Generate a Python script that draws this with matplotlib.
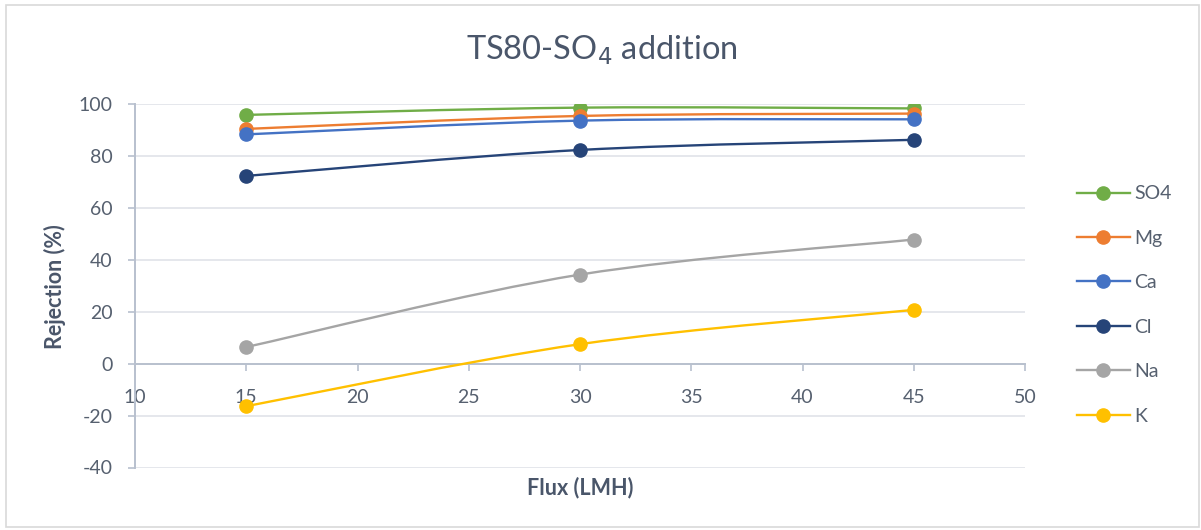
import matplotlib
matplotlib.use("Agg")
import matplotlib.pyplot as plt
from matplotlib.path import Path
from matplotlib.patches import PathPatch, Rectangle
from matplotlib.lines import Line2D
import numpy as np

plt.rcParams["font.family"] = ["Lato", "DejaVu Sans"]
plt.rcParams["axes.unicode_minus"] = False

flux = [15, 30, 45]
so4 = [95.8, 98.6, 98.3]
mg = [90.4, 95.4, 96.3]
ca = [88.3, 93.6, 94.1]
cl = [72.3, 82.3, 86.2]
na = [6.4, 34.3, 47.8]
k = [-16.4, 7.5, 20.7]

SERIES = [
    ("SO4", so4, "#70AD47"),
    ("Mg", mg, "#ED7D31"),
    ("Ca", ca, "#4472C4"),
    ("Cl", cl, "#264478"),
    ("Na", na, "#A5A5A5"),
    ("K", k, "#FFC000"),
]

TEXT = "#56606F"
TITLE = "#4A566A"
AXIS = "#B8C0CE"
GRID = "#E0E3E9"


def smooth_path(x, y):
    # cubic bezier through the points, like a spreadsheet "smoothed line"
    pts = np.column_stack([x, y]).astype(float)
    pad = np.vstack([pts[0], pts, pts[-1]])
    verts = [pts[0]]
    codes = [Path.MOVETO]
    for i in range(len(pts) - 1):
        p0, p1, p2, p3 = pad[i], pad[i + 1], pad[i + 2], pad[i + 3]
        c1 = p1 + (p2 - p0) / 6.0
        c2 = p2 - (p3 - p1) / 6.0
        verts += [c1, c2, p2]
        codes += [Path.CURVE4] * 3
    return Path(verts, codes)


fig = plt.figure(figsize=(12.01, 5.30), dpi=100)
ax = fig.add_axes([135 / 1201, 1 - 467.5 / 530, 890 / 1201, 363.5 / 530])

for name, vals, color in SERIES:
    ax.add_patch(PathPatch(smooth_path(flux, vals), fill=False, edgecolor=color,
                           linewidth=1.7, capstyle="round", zorder=3))
    ax.plot(flux, vals, linestyle="none", marker="o", markersize=9.5,
            color=color, zorder=4)

ax.set_xlim(10, 50)
ax.set_ylim(-40, 100)
ax.set_xticks(np.arange(10, 51, 5))
ax.set_yticks(np.arange(-40, 101, 20))

ax.grid(axis="y", color=GRID, linewidth=1.2, zorder=0)
ax.set_axisbelow(True)

for side in ["top", "right"]:
    ax.spines[side].set_visible(False)
ax.spines["bottom"].set_position(("data", 0))
ax.spines["bottom"].set_color(AXIS)
ax.spines["left"].set_color(AXIS)
ax.spines["bottom"].set_linewidth(1.4)
ax.spines["left"].set_linewidth(1.4)

ax.tick_params(axis="x", direction="out", length=5, width=1.2, color=AXIS,
               labelcolor=TEXT, labelsize=14, pad=13)
ax.tick_params(axis="y", direction="out", length=5, width=1.2, color=AXIS,
               labelcolor=TEXT, labelsize=14, pad=11)

# title is centred on the whole chart, not on the plot area
fig.text(602 / 1201, 1 - 50 / 530, "TS80-SO$_4$ addition", ha="center",
         va="center", fontsize=23.5, color=TITLE)
fig.text(580 / 1201, 1 - 488 / 530, "Flux (LMH)", ha="center", va="center",
         fontsize=15.5, fontweight="bold", color=TITLE)
fig.text(55 / 1201, 1 - 287 / 530, "Rejection (%)", ha="center", va="center",
         rotation=90, fontsize=15.5, fontweight="bold", color=TITLE)

handles = [Line2D([0], [0], color=c, linewidth=1.7, marker="o", markersize=9.5)
           for _, _, c in SERIES]
fig.legend(handles, [s[0] for s in SERIES], loc="center left",
           bbox_to_anchor=(1077 / 1201, 1 - 305 / 530), frameon=False,
           fontsize=14, labelcolor=TEXT, handlelength=2.7, handletextpad=0.25,
           labelspacing=1.41, borderpad=0, borderaxespad=0)

fig.patches.append(Rectangle((6 / 1201, 3 / 530), 1193 / 1201, 522 / 530,
                             transform=fig.transFigure, fill=False,
                             edgecolor="#D9D9D9", linewidth=1.2))

fig.savefig("out.png", dpi=100)
